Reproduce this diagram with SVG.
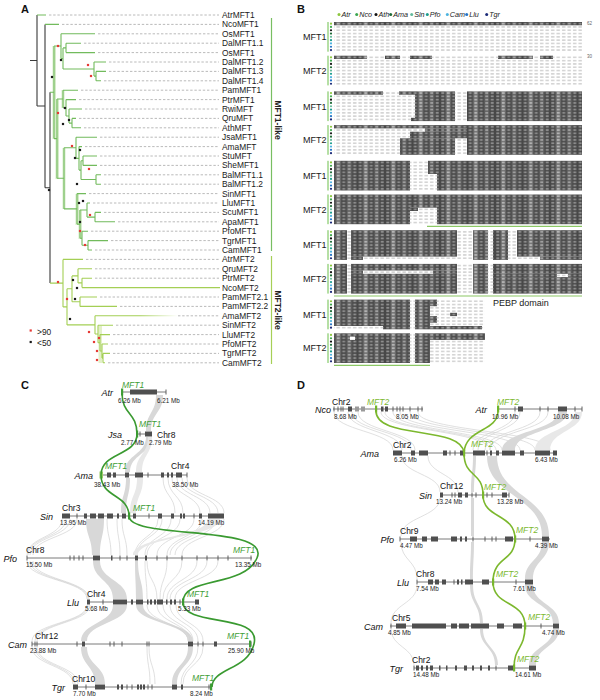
<svg xmlns="http://www.w3.org/2000/svg" xmlns:xlink="http://www.w3.org/1999/xlink" width="600" height="700" viewBox="0 0 600 700">
<style>
text{font-family:"Liberation Sans",Arial,sans-serif}
.pl{font-size:11px;font-weight:bold;fill:#111}
.lf{font-size:8.4px;fill:#1a1a1a}
.g1{stroke:#72bb5c;stroke-width:1.1;fill:none}
.g2{stroke:#a4cf55;stroke-width:1.1;fill:none}
.bk{stroke:#3a3a3a;stroke-width:1.1;fill:none}
.dl{stroke:#a8a8a8;stroke-width:0.8;stroke-dasharray:2.4 1.8;fill:none}
.rd{fill:#e53935}
.bd{fill:#1a1a1a}
.cl{font-size:8.5px;font-weight:bold;fill:#222}
.al{fill:url(#aln)}
.ds{fill:url(#dsh)}
.gl{font-size:9px;fill:#1a1a1a}
.ul{stroke:#8cc865;stroke-width:1.2}
.num{font-size:4.5px;fill:#666}
.lg{font-size:7.2px;font-style:italic;fill:#222}
.chr{stroke:#7a7a7a;stroke-width:1;fill:none}
.bx{fill:#4f4f4f}
.tk{stroke:#4f4f4f;stroke-width:0.9;fill:none}
.sp{font-size:9px;font-style:italic;fill:#111;text-anchor:end}
.ch{font-size:8.5px;fill:#111}
.mb{font-size:6.3px;fill:#222}
.gc{font-size:8.5px;font-style:italic;fill:#3f9e36}
.gd{font-size:8.5px;font-style:italic;fill:#7cb930}
.rb{fill:#d8d8d8}
.rb2{fill:#e8e8e8}
.th{fill:none;stroke:#d3d3d3;stroke-width:0.7}
.lc{fill:none;stroke:#3a9a31;stroke-width:1.6}
.ld{fill:none;stroke:#7cb82e;stroke-width:1.6}
</style>
<defs>
<pattern id="aln" width="27.5" height="3.3" patternUnits="userSpaceOnUse">
<rect width="27.5" height="3.3" fill="#484848"/>
<rect x="5.5" width="5.5" height="3.3" fill="#6e6e6e"/>
<rect x="16.5" width="5.5" height="3.3" fill="#5e5e5e"/>
<rect x="1.3" y="0.7" width="2.9" height="1.9" fill="#8e8e8e"/>
<rect x="6.8" y="0.7" width="2.9" height="1.9" fill="#b4b4b4"/>
<rect x="12.3" y="0.7" width="2.9" height="1.9" fill="#8a8a8a"/>
<rect x="17.8" y="0.7" width="2.9" height="1.9" fill="#a0a0a0"/>
<rect x="23.3" y="0.7" width="2.9" height="1.9" fill="#8e8e8e"/>
</pattern>
<pattern id="dsh" width="5.5" height="3.3" patternUnits="userSpaceOnUse">
<rect x="1" y="1.3" width="3.4" height="0.7" fill="#999"/>
</pattern>
<linearGradient id="fade" gradientUnits="userSpaceOnUse" x1="140" y1="0" x2="178" y2="0">
<stop offset="0" stop-color="#a4cf55"/><stop offset="1" stop-color="#a4cf55" stop-opacity="0"/>
</linearGradient>
<g id="dotcol">
<circle cx="331" cy="1.65" r="1.1" fill="#8cc63e"/>
<circle cx="331" cy="4.95" r="1.1" fill="#3ba64f"/>
<circle cx="331" cy="8.25" r="1.1" fill="#111"/>
<circle cx="331" cy="11.55" r="1.1" fill="#1e6b37"/>
<circle cx="331" cy="14.85" r="1.1" fill="#63b99b"/>
<circle cx="331" cy="18.15" r="1.1" fill="#1b9c8c"/>
<circle cx="331" cy="21.45" r="1.1" fill="#4db3e0"/>
<circle cx="331" cy="24.75" r="1.1" fill="#2374c6"/>
<circle cx="331" cy="28.05" r="1.1" fill="#1b2a78"/>
<line x1="328" y1="0" x2="328" y2="29.7" stroke="#6cbf4a" stroke-width="1"/>
</g>
</defs>
<rect width="600" height="700" fill="#fff"/>

<g id="panelA">
<text class="pl" x="21" y="13">A</text>
<g fill="#d6ecca">
<rect x="52.5" y="46" width="3.5" height="93"/>
<rect x="55.5" y="99" width="3.5" height="80"/>
<rect x="61.5" y="90" width="3" height="18"/>
<rect x="62.5" y="148" width="3" height="61"/>
<rect x="75.5" y="194" width="3.5" height="31"/>
<rect x="78.5" y="210" width="3.5" height="29"/>
</g>
<rect x="98.5" y="326" width="3.5" height="37" fill="#e3f0c8"/>
<path class="dl" d="M49,15H219 M62,24.4H219 M98,33.8H219 M84,43.2H219 M98,52.6H219 M109,62H219 M109,71.4H219 M104,80.8H219 M81,90.2H219 M79,99.6H219 M85,109H219 M79,118.4H219 M84,127.8H219 M100,137.2H219 M85,146.6H219 M100,156H219 M100,165.4H219 M104,174.8H219 M104,184.2H219 M89,193.6H219 M93,203H219 M104,212.4H219 M118,221.8H219 M91,231.2H219 M111,240.6H219 M95,250H219 M86,259.4H219 M95,268.8H219 M95,278.2H219 M100,297H219 M120,306.4H219 M178,315.8H219 M116,325.2H219 M113,334.6H219 M111,344H219 M113,353.4H219 M108,362.8H219"/>
<path class="bk" d="M30,60.5H37 M37,15V106 M37,106H45 M45,24.4V187.7 M45,187.7H50 M50,92.3V283.1"/>
<path class="g1" d="M37,15H46 M45,24.4H59 M50,92.3H54 M54,46V138.6 M54,46H61 M61,33.8V58.5 M61,33.8H95 M61,58.5H63 M63,47.9V69 M63,47.9H66 M66,43.2V52.6 M66,43.2H81 M66,52.6H95 M63,69H94 M94,62V76.1 M94,62H106 M94,76.1H96 M96,71.4V80.8 M96,71.4H106 M96,80.8H101 M54,138.6H57 M57,99V178.3 M57,99H63 M63,90.2V107.8 M63,90.2H78 M63,107.8H66 M66,99.6V116 M66,99.6H76 M66,116H69 M69,109V123.1 M69,109H82 M69,123.1H72 M72,118.4V127.8 M72,118.4H76 M72,127.8H81 M57,178.3H64 M64,147.8V208.9 M64,147.8H76 M76,137.2V158.4 M76,137.2H97 M76,158.4H79 M79,146.6V170.1 M79,146.6H82 M79,170.1H81 M81,160.7V179.5 M81,160.7H83 M83,156V165.4 M83,156H97 M83,165.4H97 M81,179.5H96 M96,174.8V184.2 M96,174.8H101 M96,184.2H101 M64,208.9H77 M77,193.6V224.1 M77,193.6H86 M77,224.1H80 M80,210V238.2 M80,210H87 M87,203V217.1 M87,203H90 M87,217.1H95 M95,212.4V221.8 M95,212.4H101 M95,221.8H115 M80,238.2H82 M82,231.2V245.3 M82,231.2H88 M82,245.3H88 M88,240.6V250 M88,240.6H108 M88,250H92"/>
<path class="g2" d="M50,283.1H63 M63,259.4V306.9 M63,259.4H83 M63,306.9H67 M67,288.8V324.9 M67,288.8H72 M72,275.9V301.7 M72,275.9H78 M78,268.8V282.9 M78,268.8H92 M78,282.9H82 M82,278.2V287.6 M82,278.2H92 M82,287.6H220 M72,301.7H80 M80,297V306.4 M80,297H97 M80,306.4H117 M67,324.9H95 M95,315.8V334 M95,315.8H140 M95,334H98 M98,325.2V342.8 M98,325.2H113 M98,342.8H100 M100,334.6V351 M100,334.6H110 M100,351H102 M102,344V358.1 M102,344H108 M102,358.1H103 M103,353.4V362.8 M103,353.4H110 M103,362.8H105"/>
<line x1="140" y1="315.8" x2="178" y2="315.8" stroke="url(#fade)" stroke-width="1.1"/>
<g class="rd">
<rect x="56.9" y="44.9" width="2.2" height="2.2"/><rect x="86.9" y="63.9" width="2.2" height="2.2"/><rect x="89.9" y="74.9" width="2.2" height="2.2"/><rect x="56.9" y="111.9" width="2.2" height="2.2"/><rect x="70.9" y="144.9" width="2.2" height="2.2"/><rect x="87.9" y="167.9" width="2.2" height="2.2"/><rect x="88.9" y="213.9" width="2.2" height="2.2"/><rect x="78.9" y="229.9" width="2.2" height="2.2"/><rect x="83.9" y="243.9" width="2.2" height="2.2"/>
<rect x="56.9" y="280.9" width="2.2" height="2.2"/><rect x="65.9" y="297.9" width="2.2" height="2.2"/><rect x="87.9" y="330.9" width="2.2" height="2.2"/><rect x="97.9" y="336.9" width="2.2" height="2.2"/><rect x="92.9" y="340.9" width="2.2" height="2.2"/><rect x="95.9" y="349.9" width="2.2" height="2.2"/><rect x="95.9" y="358.9" width="2.2" height="2.2"/>
<rect x="29.6" y="329.4" width="2.2" height="2.2"/>
</g>
<g class="bd">
<rect x="50.9" y="75.9" width="2.2" height="2.2"/><rect x="59.9" y="58.9" width="2.2" height="2.2"/><rect x="63.9" y="106.9" width="2.2" height="2.2"/><rect x="67.9" y="118.9" width="2.2" height="2.2"/><rect x="61.9" y="122.9" width="2.2" height="2.2"/><rect x="78.9" y="148.9" width="2.2" height="2.2"/><rect x="73.9" y="156.9" width="2.2" height="2.2"/><rect x="75.9" y="182.9" width="2.2" height="2.2"/><rect x="77.9" y="201.9" width="2.2" height="2.2"/><rect x="81.9" y="199.9" width="2.2" height="2.2"/><rect x="78.9" y="220.9" width="2.2" height="2.2"/><rect x="47.9" y="188.9" width="2.2" height="2.2"/>
<rect x="71.9" y="278.9" width="2.2" height="2.2"/><rect x="75.9" y="286.9" width="2.2" height="2.2"/><rect x="73.9" y="297.9" width="2.2" height="2.2"/><rect x="68.9" y="317.9" width="2.2" height="2.2"/>
<rect x="29.6" y="340.9" width="2.2" height="2.2"/>
</g>
<text class="lf" x="37" y="334.5">&gt;90</text>
<text class="lf" x="37" y="346">&lt;50</text>
<g class="lf">
<text x="222" y="18">AtrMFT1</text><text x="222" y="27.4">NcoMFT1</text><text x="222" y="36.8">OsMFT1</text><text x="222" y="46.2">DalMFT1.1</text><text x="222" y="55.6">OsMFT1</text><text x="222" y="65">DalMFT1.2</text><text x="222" y="74.4">DalMFT1.3</text><text x="222" y="83.8">DalMFT1.4</text><text x="222" y="93.2">PamMFT1</text><text x="222" y="102.6">PtrMFT1</text><text x="222" y="112">RwiMFT</text><text x="222" y="121.4">QruMFT</text><text x="222" y="130.8">AthMFT</text><text x="222" y="140.2">JsaMFT1</text><text x="222" y="149.6">AmaMFT</text><text x="222" y="159">StuMFT</text><text x="222" y="168.4">SheMFT1</text><text x="222" y="177.8">BalMFT1.1</text><text x="222" y="187.2">BalMFT1.2</text><text x="222" y="196.6">SinMFT1</text><text x="222" y="206">LluMFT1</text><text x="222" y="215.4">ScuMFT1</text><text x="222" y="224.8">ApaMFT1</text><text x="222" y="234.2">PfoMFT1</text><text x="222" y="243.6">TgrMFT1</text><text x="222" y="253">CamMFT1</text>
<text x="222" y="262.4">AtrMFT2</text><text x="222" y="271.8">QruMFT2</text><text x="222" y="281.2">PtrMFT2</text><text x="222" y="290.6">NcoMFT2</text><text x="222" y="300">PamMFT2.1</text><text x="222" y="309.4">PamMFT2.2</text><text x="222" y="318.8">AmaMFT2</text><text x="222" y="328.2">SinMFT2</text><text x="222" y="337.6">LluMFT2</text><text x="222" y="347">PfoMFT2</text><text x="222" y="356.4">TgrMFT2</text><text x="222" y="365.8">CamMFT2</text>
</g>
<line x1="271.5" y1="18" x2="271.5" y2="251" stroke="#78be62" stroke-width="1.2"/>
<line x1="271.5" y1="256" x2="271.5" y2="364" stroke="#a6cf57" stroke-width="1.2"/>
<text class="cl" transform="translate(275,120) rotate(90)" text-anchor="middle">MFT1-like</text>
<text class="cl" transform="translate(275,310) rotate(90)" text-anchor="middle">MFT2-like</text>
</g>

<g id="panelB">
<text class="pl" x="297" y="13">B</text>
<g id="legendB">
<circle cx="339" cy="14.5" r="1.5" fill="#8cc63e"/><text class="lg" x="341.5" y="17">Atr</text>
<circle cx="356.7" cy="14.5" r="1.5" fill="#3ba64f"/><text class="lg" x="359.2" y="17">Nco</text>
<circle cx="376" cy="14.5" r="1.5" fill="#111"/><text class="lg" x="378.5" y="17">Ath</text>
<circle cx="390.7" cy="14.5" r="1.5" fill="#1e6b37"/><text class="lg" x="393.2" y="17">Ama</text>
<circle cx="411.7" cy="14.5" r="1.5" fill="#63b99b"/><text class="lg" x="414.2" y="17">Sin</text>
<circle cx="427.3" cy="14.5" r="1.5" fill="#1b9c8c"/><text class="lg" x="429.8" y="17">Pfo</text>
<circle cx="447.3" cy="14.5" r="1.5" fill="#4db3e0"/><text class="lg" x="449.8" y="17">Cam</text>
<circle cx="466.7" cy="14.5" r="1.5" fill="#2374c6"/><text class="lg" x="469.2" y="17">Llu</text>
<circle cx="486.7" cy="14.5" r="1.5" fill="#1b2a78"/><text class="lg" x="489.2" y="17">Tgr</text>
</g>
<g class="gl">
<text x="303" y="40">MFT1</text><text x="303" y="73.8">MFT2</text>
<text x="303" y="109.5">MFT1</text><text x="303" y="143.2">MFT2</text>
<text x="303" y="178.9">MFT1</text><text x="303" y="212.6">MFT2</text>
<text x="303" y="248.3">MFT1</text><text x="303" y="282">MFT2</text>
<text x="303" y="317.7">MFT1</text><text x="303" y="351.4">MFT2</text>
</g>
<g id="b1m1" transform="translate(0,22)">
<use xlink:href="#dotcol"/>
<rect class="ds" x="334" y="0" width="248" height="29.7"/>
<rect class="al" x="334" y="0" width="248" height="3.3"/>
</g>
<g id="b1m2" transform="translate(0,55.7)">
<use xlink:href="#dotcol"/>
<rect class="ds" x="334" y="0" width="248" height="29.7"/>
<rect class="al" x="334" y="0" width="33" height="3.3"/><rect class="al" x="385" y="0" width="15" height="3.3"/><rect class="al" x="410" y="0" width="22" height="3.3"/><rect class="al" x="498" y="0" width="35" height="3.3"/><rect class="al" x="540" y="0" width="13" height="3.3"/>
</g>
<g id="b2m1" transform="translate(0,91.4)">
<use xlink:href="#dotcol"/>
<rect class="ds" x="334" y="0" width="248" height="29.7"/>
<rect class="al" x="334" y="0" width="49" height="3.3"/><rect class="al" x="399" y="0" width="16" height="3.3"/>
<rect class="al" x="415" y="0" width="40" height="29.7"/><rect class="al" x="411" y="26.4" width="4" height="3.3"/>
<rect class="al" x="467" y="0" width="115" height="29.7"/>
</g>
<g id="b2m2" transform="translate(0,125.1)">
<use xlink:href="#dotcol"/>
<rect class="ds" x="334" y="0" width="248" height="29.7"/>
<rect class="al" x="334" y="0" width="133" height="3.3"/>
<rect class="al" x="425" y="3.3" width="42" height="3.3"/>
<rect class="al" x="410" y="6.6" width="57" height="6.6"/>
<rect class="al" x="400" y="13.2" width="55" height="16.5"/>
<rect class="al" x="467" y="0" width="115" height="29.7"/>
</g>
<g id="b3m1" transform="translate(0,160.8)">
<use xlink:href="#dotcol"/>
<rect class="ds" x="334" y="0" width="248" height="29.7"/>
<rect class="al" x="334" y="0" width="76" height="29.7"/>
<rect class="al" x="428" y="0" width="9" height="13.2"/>
<rect class="al" x="437" y="0" width="145" height="29.7"/>
</g>
<g id="b3m2" transform="translate(0,194.5)">
<use xlink:href="#dotcol"/>
<rect class="ds" x="334" y="0" width="248" height="29.7"/>
<rect class="al" x="334" y="0" width="76" height="29.7"/>
<rect class="al" x="410" y="0" width="27" height="13.2"/><rect class="al" x="410" y="13.2" width="8" height="3.3"/>
<rect class="al" x="437" y="0" width="145" height="29.7"/>
</g>
<line class="ul" x1="427" y1="226.4" x2="582" y2="226.4"/>
<g id="b4m1" transform="translate(0,230.2)">
<use xlink:href="#dotcol"/>
<rect class="ds" x="334" y="0" width="248" height="29.7"/>
<rect class="al" x="334" y="0" width="13" height="29.7"/>
<rect class="al" x="351" y="0" width="106" height="26.4"/><rect class="al" x="351" y="26.4" width="12" height="3.3"/>
<rect class="al" x="473" y="0" width="15" height="29.7"/>
<rect class="al" x="493" y="0" width="15" height="29.7"/>
<rect class="al" x="517" y="0" width="65" height="26.4"/><rect class="al" x="540" y="26.4" width="42" height="3.3"/>
</g>
<g id="b4m2" transform="translate(0,263.9)">
<use xlink:href="#dotcol"/>
<rect class="ds" x="334" y="0" width="248" height="29.7"/>
<rect class="al" x="334" y="0" width="13" height="29.7"/>
<rect class="al" x="351" y="0" width="106" height="6.6"/><rect class="al" x="351" y="6.6" width="12" height="3.3"/><rect class="al" x="433" y="6.6" width="24" height="3.3"/><rect class="al" x="351" y="9.9" width="106" height="19.8"/>
<rect class="al" x="473" y="0" width="15" height="29.7"/>
<rect class="al" x="493" y="0" width="89" height="9.9"/><rect class="al" x="493" y="9.9" width="64" height="3.3"/><rect class="al" x="568" y="9.9" width="14" height="3.3"/><rect class="al" x="493" y="13.2" width="89" height="16.5"/>
</g>
<line class="ul" x1="334" y1="296" x2="582" y2="296"/>
<g id="b5m1" transform="translate(0,299.6)">
<use xlink:href="#dotcol"/>
<rect class="ds" x="334" y="0" width="151" height="29.7"/>
<rect class="al" x="334" y="0" width="76" height="26.4"/><rect class="al" x="383" y="26.4" width="27" height="3.3"/>
<rect class="al" x="415" y="0" width="15" height="29.7"/>
<rect class="al" x="430" y="0" width="7" height="6.6"/><rect class="al" x="430" y="16.5" width="7" height="6.6"/>
<rect class="al" x="450" y="13.2" width="7" height="3.3"/>
<rect class="al" x="430" y="26.4" width="52" height="3.3"/>
</g>
<g id="b5m2" transform="translate(0,333.3)">
<use xlink:href="#dotcol"/>
<rect class="ds" x="334" y="0" width="151" height="29.7"/>
<rect class="al" x="334" y="0" width="76" height="29.7"/>
<rect x="350" y="3.3" width="5" height="3.3" fill="#fff"/>
<rect class="al" x="415" y="0" width="15" height="29.7"/>
<rect class="al" x="430" y="0" width="55" height="6.6"/>
</g>
<line class="ul" x1="334" y1="365.4" x2="430" y2="365.4"/>
<text x="493" y="306" font-size="9" fill="#1a1a1a">PEBP domain</text>
<text class="num" x="587" y="24.6">62</text>
<text class="num" x="587" y="58.3">30</text>
</g>

<g id="panelC">
<text class="pl" x="21" y="389">C</text>
<g id="ribbonsC">
<path class="rb" d="M156,395C156,413 146,413 146,431L151,431C151,413 163,413 163,395Z"/>
<path class="rb" d="M146,437C146,454.5 125,454.5 125,472L130,472C130,454.5 151,454.5 151,437Z"/>
<path class="rb2" d="M148,437C148,454.5 136,454.5 136,472L142,472C142,454.5 152,454.5 152,437Z"/>
<path class="rb" d="M126,478C126,495.5 121,495.5 121,513L126,513C126,495.5 130,495.5 130,478Z"/>
<path class="rb2" d="M137,478C137,495.5 130,495.5 130,513L136,513C136,495.5 143,495.5 143,478Z"/>
<path class="th" d="M163,478C163,495.5 175,495.5 175,513 M168,478C168,495.5 183,495.5 183,513 M172,478C172,495.5 200,495.5 200,513 M177,478C177,495.5 210,495.5 210,513 M182,478C182,495.5 218,495.5 218,513 M187,478C187,495.5 224,495.5 224,513"/>
<path class="th" d="M62,519C62,537 27,537 27,555 M66,519C66,537 28,537 28,555 M70,519C70,537 30,537 30,555 M77,519C77,537 33,537 33,555 M107,519C107,537 111,537 111,555 M117,519C117,537 120,537 120,555 M122,519C122,537 127,537 127,555 M158,519C158,537 135,537 135,555 M162,519C162,537 137,537 137,555 M171,519C171,537 145,537 145,555 M180,519C180,537 147,537 147,555 M194,519C194,537 157,537 157,555 M202,519C202,537 167,537 167,555 M208,519C208,537 170,537 170,555 M216,519C216,537 175,537 175,555 M224,519C224,537 182,537 182,555"/>
<path class="rb" d="M86,519C86,537 92,537 92,555L100,555C100,537 104,537 104,519Z"/>
<path class="rb2" d="M208,519C208,537 133,537 133,555L138,555C138,537 220,537 220,519Z"/>
<path class="rb" d="M93,561C93,580 113,580 113,599L127,599C127,580 100,580 100,561Z"/>
<path class="rb" d="M135,561C135,580 136,580 136,599L143,599C143,580 138,580 138,561Z"/>
<path class="th" d="M27,561C27,580 87,580 87,599 M30,561C30,580 88,580 88,599 M33,561C33,580 89,580 89,599 M145,561C145,580 147,580 147,599 M147,561C147,580 157,580 157,599 M167,561C167,580 160,580 160,599 M182,561C182,580 163,580 163,599 M197,561C197,580 167,580 167,599 M207,561C207,580 170,580 170,599 M218,561C218,580 175,580 175,599"/>
<path class="rb" d="M113,605C113,623 81,623 81,641L87,641C87,623 127,623 127,605Z"/>
<path class="rb" d="M136,605C136,623 188,623 188,641L193,641C193,623 143,623 143,605Z"/>
<path class="th" d="M87,605C87,623 32,623 32,641 M88,605C88,623 35,623 35,641 M90,605C90,623 37,623 37,641 M147,605C147,623 188,623 188,641 M157,605C157,623 190,623 190,641 M163,605C163,623 193,623 193,641 M170,605C170,623 198,623 198,641 M176,605C176,623 203,623 203,641"/>
<path class="rb" d="M81,647C81,665.5 95,665.5 95,684L105,684C105,665.5 87,665.5 87,647Z"/>
<path class="rb" d="M188,647C188,665.5 172,665.5 172,684L177,684C177,665.5 193,665.5 193,647Z"/>
<path class="th" d="M32,647C32,665.5 73,665.5 73,684 M35,647C35,665.5 75,665.5 75,684 M37,647C37,665.5 78,665.5 78,684 M198,647C198,665.5 181,665.5 181,684 M203,647C203,665.5 183,665.5 183,684 M147,647C147,665.5 150,665.5 150,684 M149,647C149,665.5 155,665.5 155,684"/>
</g>
<g id="chrC">
<path class="chr" d="M122,392H166 M137,434H152 M100,475H187 M62,516H224 M27,558H252 M87,602H199 M32,644H251 M73,687H210"/>
<path class="bx" d="M130,389.5h27v5h-27z M145,431.5h7v5h-7z M107,472.5h4v5h-4z M113,472.5h3v5h-3z M125,472.5h4v5h-4z M135,472.5h8v5h-8z M161,472.5h3v5h-3z M167,472.5h2v5h-2z M171,472.5h2v5h-2z M176,472.5h6v5h-6z M62,513.5h8v5h-8z M84,513.5h3v5h-3z M90,513.5h6v5h-6z M98,513.5h6v5h-6z M107,513.5h6v5h-6z M117,513.5h2v5h-2z M122,513.5h4v5h-4z M133,513.5h3v5h-3z M158,513.5h4v5h-4z M171,513.5h3v5h-3z M180,513.5h2v5h-2z M183,513.5h2v5h-2z M199,513.5h3v5h-3z M208,513.5h16v5h-16z M93,555.5h7v5h-7z M111,555.5h1.5v5h-1.5z M135,555.5h3v5h-3z M145,555.5h2v5h-2z M87,599.5h3v5h-3z M113,599.5h14v5h-14z M131,599.5h2v5h-2z M136,599.5h7v5h-7z M147,599.5h1.5v5h-1.5z M150,599.5h2v5h-2z M154,599.5h2v5h-2z M157,599.5h6v5h-6z M166,599.5h1.5v5h-1.5z M170,599.5h2v5h-2z M174,599.5h2v5h-2z M195,599.5h4v5h-4z M82,641.5h3v5h-3z M188,641.5h5v5h-5z M214,641.5h3v5h-3z M73,684.5h5v5h-5z M95,684.5h10v5h-10z M117,684.5h2v5h-2z M121,684.5h2v5h-2z M137,684.5h2v5h-2z M140,684.5h2v5h-2z M143,684.5h2v5h-2z M172,684.5h5v5h-5z M181,684.5h2v5h-2z"/>
<path class="tk" d="M166,389.5v5 M140,431.5v5 M148,472.5v5 M187,472.5v5 M77,513.5v5 M149,513.5v5 M194,513.5v5 M27,555.5v5 M70,555.5v5 M74,555.5v5 M79,555.5v5 M83,555.5v5 M120,555.5v5 M127,555.5v5 M157,555.5v5 M167,555.5v5 M182,555.5v5 M197,555.5v5 M207,555.5v5 M218,555.5v5 M228,555.5v5 M251,555.5v5 M103,599.5v5 M180,599.5v5 M32,641.5v5 M35,641.5v5 M37,641.5v5 M77,641.5v5 M110,641.5v5 M114,641.5v5 M122,641.5v5 M147,641.5v5 M149,641.5v5 M198,641.5v5 M203,641.5v5 M251,641.5v5 M86,684.5v5 M127,684.5v5 M132,684.5v5 M148,684.5v5 M152,684.5v5 M209,684.5v5"/>
<g fill="#3f9e36">
<rect x="121" y="388.5" width="2.2" height="7"/><rect x="136" y="430.5" width="2.2" height="7"/><rect x="128" y="512.5" width="2.2" height="7"/><rect x="182" y="598.5" width="2.2" height="7"/><rect x="249" y="640.5" width="2.2" height="7"/><rect x="210" y="683.5" width="2.2" height="7"/>
</g>
<rect x="99.5" y="471.5" width="3.5" height="7" fill="#9ccc65"/>
</g>
<path class="lc" d="M122,393C122,415 137,412 137,434C137,456 101,452 101,475C101,498 129,494 129,516C129,540 272,524 257,558C244,588 183,576 183,602C183,628 262,612 254,644C248,670 212,668 212,687"/>
<g id="textC">
<text class="sp" x="113" y="395.5">Atr</text><text class="gc" x="122" y="388">MFT1</text>
<text class="mb" x="118" y="403">6.26 Mb</text><text class="mb" x="157" y="403">6.21 Mb</text>
<text class="sp" x="122" y="437.5">Jsa</text><text class="gc" x="139" y="427">MFT1</text><text class="ch" x="157" y="437.5">Chr8</text>
<text class="mb" x="121" y="445">2.77 Mb</text><text class="mb" x="149" y="445">2.79 Mb</text>
<text class="sp" x="93" y="478.5">Ama</text><text class="gc" x="105" y="469">MFT1</text><text class="ch" x="171" y="469">Chr4</text>
<text class="mb" x="94" y="487">38.43 Mb</text><text class="mb" x="172" y="487">38.50 Mb</text>
<text class="sp" x="53" y="519.5">Sin</text><text class="ch" x="62" y="511">Chr3</text><text class="gc" x="133" y="511">MFT1</text>
<text class="mb" x="60" y="524.5">13.95 Mb</text><text class="mb" x="198" y="524.5">14.19 Mb</text>
<text class="sp" x="17" y="561.5">Pfo</text><text class="ch" x="26" y="553">Chr8</text><text class="gc" x="233" y="553">MFT1</text>
<text class="mb" x="26" y="566.5">15.50 Mb</text><text class="mb" x="235" y="566.5">13.35 Mb</text>
<text class="sp" x="79" y="605.5">Llu</text><text class="ch" x="87" y="597">Chr4</text><text class="gc" x="187" y="597">MFT1</text>
<text class="mb" x="85" y="611">5.68 Mb</text><text class="mb" x="178" y="611">5.33 Mb</text>
<text class="sp" x="27" y="647.5">Cam</text><text class="ch" x="35" y="639">Chr12</text><text class="gc" x="227" y="639">MFT1</text>
<text class="mb" x="30" y="653">23.88 Mb</text><text class="mb" x="228" y="653">25.90 Mb</text>
<text class="sp" x="65" y="690.5">Tgr</text><text class="ch" x="72" y="682">Chr10</text><text class="gc" x="192" y="681">MFT1</text>
<text class="mb" x="73" y="696">7.70 Mb</text><text class="mb" x="190" y="696">8.24 Mb</text>
</g>
</g>

<g id="panelD">
<text class="pl" x="297" y="389">D</text>
<g id="ribbonsD">
<path class="th" d="M334,412C334,431 393,431 393,450 M348,412C348,431 402,431 402,450 M352,412C352,431 411,431 411,450 M358,412C358,431 415,431 415,450 M381,412C381,431 490,431 490,450 M385,412C385,431 496,431 496,450 M393,412C393,431 502,431 502,450 M400,412C400,431 520,431 520,450 M410,412C410,431 535,431 535,450 M418,412C418,431 550,431 550,450 M515,412C515,431 473,431 473,450 M520,412C520,431 478,431 478,450 M540,412C540,431 485,431 485,450 M548,412C548,431 490,431 490,450"/>
<path class="rb" d="M558,412C558,431 502,431 502,450L515,450C515,431 567,431 567,412Z"/>
<path class="rb2" d="M575,412C575,431 535,431 535,450L550,450C550,431 582,431 582,412Z"/>
<path class="th" d="M402,456C402,474 440,474 440,492 M428,456C428,474 458,474 458,492 M440,498C440,517 401,517 401,536 M401,542C401,560.5 417,560.5 417,579 M417,585C417,604 391,604 391,623 M391,629C391,647 414,647 414,665"/>
<path class="rb" d="M473,456C473,474 471,474 471,492L474,492C474,474 476,474 476,456Z"/>
<path class="rb" d="M487,456C487,496 542,496 542,536L549,536C549,496 497,496 497,456Z"/>
<path class="rb" d="M471,498V536H474V498Z"/>
<path class="rb" d="M542,542C542,560.5 525,560.5 525,579L533,579C533,560.5 549,560.5 549,542Z"/>
<path class="rb" d="M471,542C471,560.5 470,560.5 470,579L473,579C473,560.5 474,560.5 474,542Z"/>
<path class="rb" d="M525,585C525,604 553,604 553,623L559,623C559,604 533,604 533,585Z"/>
<path class="rb" d="M470,585C470,604 480,604 480,623L483,623C483,604 473,604 473,585Z"/>
<path class="rb" d="M553,629C553,647 529,647 529,665L536,665C536,647 559,647 559,629Z"/>
<path class="rb" d="M480,629C480,647 495,647 495,665L498,665C498,647 483,647 483,629Z"/>
</g>
<g id="chrD">
<path class="chr" d="M333,409H423 M498,409H582 M393,453H557 M440,495H509 M400,539H550 M417,582H533 M390,626H559 M414,668H536"/>
<path class="bx" d="M348,406.5h4v5h-4z M381,406.5h2.5v5h-2.5z M385,406.5h3v5h-3z M518,406.5h5v5h-5z M558,406.5h9v5h-9z M393,450.5h9v5h-9z M411,450.5h4v5h-4z M419,450.5h9v5h-9z M443,450.5h4v5h-4z M460,450.5h3v5h-3z M473,450.5h12v5h-12z M490,450.5h2v5h-2z M496,450.5h3v5h-3z M502,450.5h13v5h-13z M520,450.5h4v5h-4z M535,450.5h15v5h-15z M553,450.5h4v5h-4z M440,492.5h3v5h-3z M458,492.5h4v5h-4z M465,492.5h3v5h-3z M502,492.5h5v5h-5z M410,536.5h7v5h-7z M422,536.5h5v5h-5z M431,536.5h7v5h-7z M451,536.5h6v5h-6z M460,536.5h2v5h-2z M465,536.5h2v5h-2z M505,536.5h8v5h-8z M542,536.5h7v5h-7z M428,579.5h5v5h-5z M435,579.5h4v5h-4z M442,579.5h4v5h-4z M457,579.5h2v5h-2z M461,579.5h1.5v5h-1.5z M465,579.5h8v5h-8z M482,579.5h7v5h-7z M525,579.5h8v5h-8z M396,623.5h10v5h-10z M412,623.5h34v5h-34z M451,623.5h6v5h-6z M459,623.5h10v5h-10z M471,623.5h18v5h-18z M497,623.5h7v5h-7z M513,623.5h9v5h-9z M553,623.5h6v5h-6z M416,665.5h3v5h-3z M421,665.5h2v5h-2z M426,665.5h2v5h-2z M430,665.5h3v5h-3z M439,665.5h1.5v5h-1.5z M446,665.5h1.5v5h-1.5z M455,665.5h2v5h-2z M464,665.5h3v5h-3z M472,665.5h2v5h-2z M480,665.5h2v5h-2z M488,665.5h2v5h-2z M508,665.5h5v5h-5z M529,665.5h7v5h-7z"/>
<path d="M355,406.5h4v5h-4z M361,406.5h4v5h-4z" fill="#9a9a9a"/>
<path class="tk" d="M334,406.5v5 M338,406.5v5 M341,406.5v5 M343,406.5v5 M393,406.5v5 M397,406.5v5 M400,406.5v5 M403,406.5v5 M410,406.5v5 M418,406.5v5 M422,406.5v5 M515,406.5v5 M540,406.5v5 M548,406.5v5 M575,406.5v5 M582,406.5v5 M450,450.5v5 M455,450.5v5 M487,450.5v5 M452,492.5v5 M455,492.5v5 M472,492.5v5 M476,492.5v5 M487,492.5v5 M492,492.5v5 M509,492.5v5 M400,536.5v5 M473,536.5v5 M485,536.5v5 M492,536.5v5 M496,536.5v5 M530,536.5v5 M417,579.5v5 M454,579.5v5 M516,579.5v5 M391,623.5v5 M541,623.5v5 M414,665.5v5 M496,665.5v5"/>
<g fill="#6fb52a">
<rect x="375" y="405.5" width="2.2" height="7"/><rect x="497" y="405.5" width="2.2" height="7"/><rect x="463" y="449.5" width="2.2" height="7"/><rect x="482" y="491.5" width="2.2" height="7"/><rect x="514" y="535.5" width="2.2" height="7"/><rect x="492" y="578.5" width="2.2" height="7"/><rect x="524" y="622.5" width="2.2" height="7"/><rect x="513" y="664.5" width="2.2" height="7"/>
</g>
</g>
<path class="ld" d="M376,411C376,440 462,425 464,453"/>
<path class="ld" d="M498,411C498,432 465,428 464,453"/>
<path class="ld" d="M464,453C464,478 483,471 483,495C483,519 515,513 515,539C515,562 493,556 493,582C493,607 525,600 525,626C525,650 514,646 514,668"/>
<g id="textD">
<text class="sp" x="331" y="412.5">Nco</text><text class="ch" x="332" y="405">Chr2</text><text class="gd" x="367" y="405">MFT2</text>
<text class="mb" x="334" y="419">8.68 Mb</text><text class="mb" x="396" y="419">8.05 Mb</text>
<text class="sp" x="487" y="412.5">Atr</text><text class="gd" x="497" y="405">MFT2</text>
<text class="mb" x="492" y="419">10.96 Mb</text><text class="mb" x="553" y="419">10.08 Mb</text>
<text class="sp" x="379" y="456.5">Ama</text><text class="ch" x="393" y="447.5">Chr2</text><text class="gd" x="471" y="447">MFT2</text>
<text class="mb" x="394" y="461.5">6.26 Mb</text><text class="mb" x="535" y="461.5">6.43 Mb</text>
<text class="sp" x="432" y="498.5">Sin</text><text class="ch" x="440" y="489">Chr12</text><text class="gd" x="484" y="489.5">MFT2</text>
<text class="mb" x="436" y="503.5">13.24 Mb</text><text class="mb" x="497" y="503.5">13.28 Mb</text>
<text class="sp" x="394" y="542.5">Pfo</text><text class="ch" x="400" y="533.5">Chr9</text><text class="gd" x="516" y="533">MFT2</text>
<text class="mb" x="400" y="547.5">4.47 Mb</text><text class="mb" x="535" y="547.5">4.39 Mb</text>
<text class="sp" x="409" y="585.5">Llu</text><text class="ch" x="416" y="576.5">Chr8</text><text class="gd" x="496" y="576.5">MFT2</text>
<text class="mb" x="416" y="590.5">7.54 Mb</text><text class="mb" x="513" y="590.5">7.61 Mb</text>
<text class="sp" x="383" y="629.5">Cam</text><text class="ch" x="392" y="620.5">Chr5</text><text class="gd" x="528" y="620">MFT2</text>
<text class="mb" x="388" y="634.5">4.85 Mb</text><text class="mb" x="542" y="634.5">4.74 Mb</text>
<text class="sp" x="403" y="671.5">Tgr</text><text class="ch" x="412" y="662.5">Chr2</text><text class="gd" x="517" y="662">MFT2</text>
<text class="mb" x="413" y="676.5">14.48 Mb</text><text class="mb" x="515" y="676.5">14.61 Mb</text>
</g>
</g>
</svg>
